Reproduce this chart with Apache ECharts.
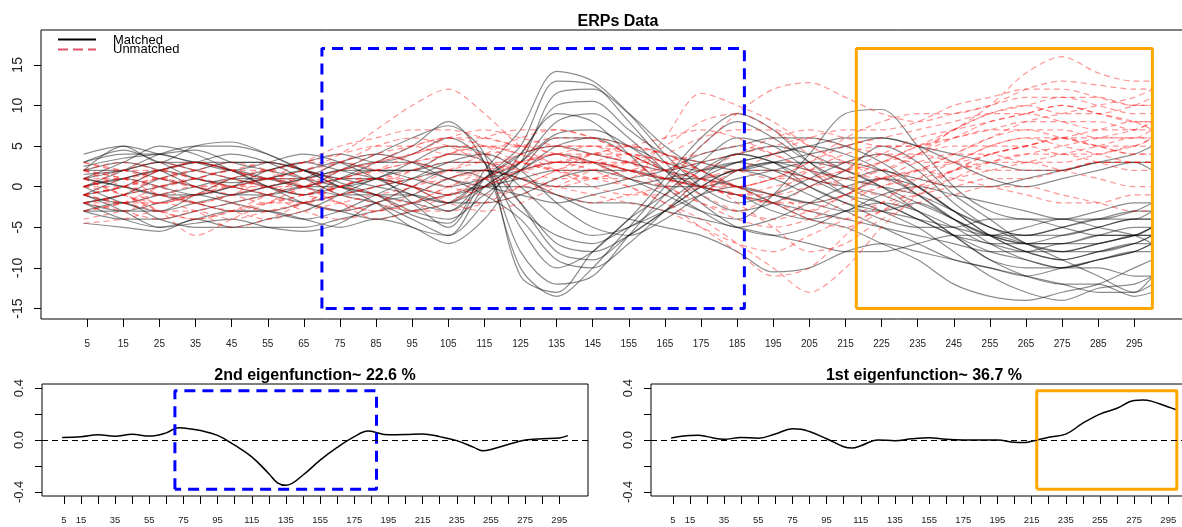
<!DOCTYPE html>
<html>
<head>
<meta charset="utf-8">
<title>ERPs Data</title>
<script src="https://cdn.jsdelivr.net/npm/echarts@6/dist/echarts.min.js"></script>
<style>
  html, body { margin: 0; padding: 0; background: #fff; }
  #erp { width: 1182px; height: 527px; }
</style>
</head>
<body>
<div id="erp"></div>
<script>
const timePts = [4, 15, 25, 35, 45, 55, 65, 75, 85, 95, 105, 115, 125, 135, 145, 155, 165, 175, 185, 195, 205, 215, 225, 235, 245, 255, 265, 275, 285, 295, 300]

// Matched curves (black)
const matched = [
  [3, 4.5, 3, 1, 0.5, 1, 2, 0.5, -1, -3.5, -4.5, 2, 7, 14.2, 13, 9, 4, 0, -2, -1, 1, 3, 4, 2, -2, -5, -6, -5, -4, -3, -3],
  [1, 3, 5, 4, 2, 0, -1, 0, 1, -2, -5, 1, 5, 13, 12.5, 8, 3, -1, -3, -2, 0, 2, 5, 3, -1, -4, -7, -8, -7, -6, -5],
  [-1, 0, 2, 3, 4, 3, 1, -1, -2, -4, -6, 0, 3, 11.5, 12, 9, 5, 2, 0, -1, -2, -1, 1, 0, -3, -6, -8, -9, -8, -7, -6],
  [2, 5, 3, 5, 5.5, 4, 2, 1, 0, -1, -3, 1, 4, 10, 10.5, 7, 4, 3, 2, 3, 4, 5, 6, 5, 3, 1, 0, 1, 2, 3, 3],
  [0, -2, -3, -1, 1, 2, 3, 2, 1, 0, -2, 1, 3, 8, 9, 6, 2, -2, -5, -6, -5, -3, -2, -3, -5, -7, -7, -6, -5, -4, -4],
  [-2, -1, 1, 2, 3, 3, 2, 0, -1, -2, -3, 0, 3, 6.5, 7, 5, 2, 0, -1, -3, -4, -3, -1, 0, -1, -2, -3, -4, -4, -3, -2],
  [1, 2, 3, 2, 1, 0, -1, 1, 3, 5, 8, 3, -10, -13.5, -10, -5, 0, 5, 8, 6, 3, 1, 2, 0, -3, -6, -8, -9, -8, -7, -7],
  [-2, -1, 0, 1, 2, 1, 0, 2, 4, 6, 7.5, 4, -11, -13, -8, -4, 1, 6, 9, 7, 3, 0, -2, -4, -6, -8, -9, -10, -9, -8, -7],
  [0, 1, 0, -1, 0, 2, 3, 4, 3, 4, 6, 3, -8, -12, -11, -6, -1, 3, 6, 5, 2, -1, -3, -5, -8, -11, -13, -14, -12.5, -12, -11],
  [2, 3, 2, 0, -1, -1, 0, 1, 2, 2, 4, 3, -5, -10, -8, -4, -1, 2, 4, 3, 1, 0, -1, -3, -6, -9, -10, -10, -10, -11, -11],
  [-3, -4, -4, -3, -2, -1, 0, 0, 1, 3, 5, 4, -2, -8, -9, -6, -3, 0, 2, 1, -1, -3, -5, -7, -9, -10, -11, -12, -13, -13, -11],
  [1, 0, -1, -2, -3, -3, -2, -1, 0, 1, 2, 1, -3, -6, -7, -5, -3, -1, 0, -1, -2, -3, -3, -2, -4, -6, -7, -7, -6, -6, -5],
  [3, 4, 4, 3, 3, 3, 2, 1, 1, 0, -1, 0, 1, 2, 2, 1, 0, 0, 1, 2, 3, 3, 2, 1, 0, 0, 1, 2, 3, 4, 5],
  [-4.5, -5, -5.5, -4, -5, -5, -5, -4, -3, -2, -1, 0, 0, -1, -2, -2, -3, -4, -5, -6, -7, -8, -8, -7, -6, -6, -7, -8, -7, -6, -5],
  [-2, -4, -5, -4.5, -4, -5, -5.5, -4.5, -2, -1, 1, 2, 1, -1, -3, -4, -5, -6, -8, -10.5, -10, -8, -7, -8, -9, -10, -11, -10, -9, -8, -7],
  [2.5, 3.5, 4, 4.5, 3, 2, 1, 0, -1, -3, -4, -1, 2, 4, 3, 1, -1, -3, -4, -1, 4, 9, 9.5, 5, 0, -3, -4, -4, -3, -2, -2],
  [-1, -2, -1, 0, 1, 1, 0, -1, -1, -1, -2, -2, -1, 1, 2, 2, 1, 0, -1, -2, -3, -4, -5, -6, -7, -8, -8, -7, -7, -6, -6],
  [0, 1, 2, 1, 0, -1, -2, -3, -4, -3, -2, 1, 4, 5, 4, 3, 2, 3, 4, 5, 4, 2, 0, -2, -4, -6, -5, -4, -5, -6, -7],
  [-3, -3, -2, -1, -2, -3, -4, -3, -1, 1, 3, 4, 2, -2, -5, -6, -4, -1, 2, 3, 2, 1, 0, -1, -3, -5, -7, -9, -11, -13, -12],
  [1.5, 2, 3, 3, 2, 1, 1, 2, 2, 1, 0, 1, 2, 3, 3, 2, 1, 1, 2, 3, 3, 2, 0, -3, -6, -9, -11, -12, -12, -13.5, -13],
  [-1, -3, -5, -4, -3, -3, -4, -5, -4, -5, -7, -4, 2, 6, 6, 4, 2, 1, 0, -2, -4, -5, -7, -9, -12, -13.5, -14, -13, -12, -10, -9],
  [1, 0, -1, -1, 0, 1, 2, 3, 2, 2, 3, 3, 0, -4, -6, -5, -2, 1, 3, 4, 5, 6, 6, 5, 4, 3, 2, 2, 3, 3, 2],
  [2, 2, 1, 0, -1, 0, 1, 2, 3, 3, 2, 2, 1, 0, 0, 1, 2, 4, 5, 6, 6, 5, 3, 0, -3, -5, -6, -6, -5, -4, -4],
  [-1, 1, 2, 3, 2, 0, -2, -3, -2, 0, 2, 2, -2, -7, -8, -6, -3, 0, 2, 2, 1, -1, -2, -4, -6, -7, -8, -8, -8, -7, -6],
  [4, 5, 4, 3, 2, 3, 4, 3, 1, -1, -2, 0, 2, 5, 6, 5, 3, 2, 3, 4, 5, 4, 2, -1, -4, -6, -7, -7, -6, -5, -5],
  [-3, -2, -4, -5, -5, -4, -3, -1, 1, 2, 1, -1, -4, -9, -10, -7, -3, 1, 4, 3, 0, -2, -3, -4, -5, -6, -6, -5, -4, -4, -3],
  [0, 2, 4, 5, 5, 4, 2, 0, -2, -5, -6, -2, 4, 9, 8, 4, 0, -3, -5, -4, -2, 0, 1, -1, -4, -7, -9, -10, -9, -8, -8],
  [-2, -3, -3, -2, -1, 0, 1, 3, 4, 3, 1, 0, -1, -2, -1, 0, 1, 2, 3, 2, 0, -2, -4, -5, -5, -4, -4, -5, -6, -6, -6]
]

// Unmatched curves (red dashed)
const unmatched = [
  [0, 1, 2, 1, 0, 1, 2, 4, 7, 10, 12, 9, 5, 3, 3, 2, 1, 0, -1, -1, 0, 1, 3, 5, 7, 9, 10, 11, 11, 10, 10],
  [1, -1, -2, -1, 0, 1, 0, 1, 2, 3, 4, 5, 5, 4, 3, 2, 1, 2, 4, 6, 7, 6, 5, 5, 7, 10, 14, 16, 14, 13, 13],
  [-1, 0, 1, 0, -1, -2, -1, 0, 1, 0, -1, 1, 3, 4, 4, 3, 2, 5, 9, 12, 12.8, 11, 9, 8, 9, 10, 12, 13, 12.5, 12, 12],
  [2, 1, 0, 1, 2, 3, 2, 1, 3, 5, 6, 5, 3, 2, 1, 1, 6, 11.5, 10, 8, 5, 3, 2, 4, 7, 9, 10, 9, 9, 10, 11],
  [-3, -2, -1, -2, -3, -2, -1, 0, -1, -2, -1, 0, 2, 3, 2, 0, -2, -4, -7, -10, -13, -10, -5, -1, 2, 4, 5, 6, 7, 8, 8],
  [-4.5, -4, -3, -3, -4, -3, -2, -1, 0, 1, 2, 3, 3, 2, 1, 0, -2, -5, -8, -11, -10, -6, -2, 1, 3, 5, 6, 6, 5, 5, 6],
  [1, 2, 1, 0, 1, 2, 3, 4, 5, 5, 4, 4, 5, 6, 6, 5, 4, 3, 2, 1, 1, 2, 3, 5, 6, 7, 8, 8, 8, 7, 7],
  [-2, -3, -4, -3, -2, -1, 0, 1, 2, 3, 4, 6, 7, 7, 6, 4, 2, 0, -1, 0, 1, 2, 3, 4, 5, 5, 5, 4, 4, 5, 5],
  [0, 0, -1, -2, -1, 0, 1, 0, -1, -3, -2, 0, 2, 3, 3, 2, 1, 0, 0, 1, 2, 3, 4, 4, 3, 2, 2, 2, 3, 3, 3],
  [3, 2, 1, 2, 3, 2, 0, -2, -3, -2, 0, 2, 4, 5, 5, 3, 1, 0, -1, -2, -2, -1, 0, 2, 4, 6, 8, 9, 10, 11, 12],
  [-1, -2, -3, -4, -3, -1, 1, 3, 4, 3, 2, 1, 0, 0, 1, 2, 3, 4, 5, 4, 2, 0, -1, 0, 2, 4, 5, 6, 5, 4, 4],
  [2, 3, 2, 1, 0, -1, -2, -1, 0, 2, 4, 5, 4, 3, 4, 5, 4, 2, 0, 1, 3, 5, 6, 7, 8, 9, 9, 8, 7, 7, 8],
  [-3, -2, 0, 1, 0, -1, -3, -4, -3, -1, 1, 2, 1, -1, -2, -1, 0, 1, 2, 2, 1, 0, 1, 2, 1, 0, -1, -2, -2, -1, -1],
  [0, 1, 0, -2, -3, -4, -3, -2, -1, 0, 2, 4, 6, 7, 6, 4, 2, 1, 0, -1, -3, -4, -3, -1, 1, 3, 4, 4, 3, 2, 2],
  [1, -1, -3, -6, -4, -2, 0, 2, 3, 4, 5, 5, 4, 2, 0, -1, -1, 0, 2, 4, 6, 7, 7, 8, 10, 11, 12, 12, 11, 10, 10],
  [-1, 0, 1, 2, 1, 0, -1, 0, 2, 4, 6, 7, 6, 5, 4, 3, 1, -1, -3, -4, -3, -1, 1, 3, 4, 4, 3, 3, 4, 5, 6],
  [2, 0, -2, -1, 1, 2, 1, -1, -2, -3, -3, -2, 0, 2, 4, 5, 6, 7, 6, 4, 2, 1, 2, 4, 6, 8, 9, 10, 9, 8, 7],
  [-2, -1, 0, 1, 2, 2, 3, 3, 2, 0, -2, -3, -2, 0, 2, 3, 3, 2, 0, -2, -4, -5, -3, 0, 2, 3, 3, 2, 1, 0, 0],
  [0, 2, 3, 2, 1, 0, 0, 1, 1, 2, 3, 3, 2, 1, 1, 2, 2, 3, 4, 5, 6, 5, 4, 3, 3, 4, 5, 6, 6, 6, 6],
  [-4, -3, -2, -3, -5, -4, -2, 0, 1, 0, -1, -2, -1, 1, 3, 4, 3, 1, -2, -5, -8, -7, -4, -2, -1, 0, 0, -1, -2, -3, -3],
  [1, 1, 2, 3, 2, 1, 2, 3, 5, 6, 5, 3, 2, 3, 4, 4, 3, 1, 0, 1, 3, 6, 8, 9, 9, 10, 11, 11, 10, 9, 9],
  [-2, -2, -1, 0, 0, 1, 0, -2, -4, -3, -1, 1, 3, 4, 3, 1, 0, -2, -4, -5, -4, -2, 0, 1, 2, 3, 4, 5, 6, 7, 8],
  [2, 1, -1, -2, -1, 1, 3, 5, 6, 7, 7, 6, 5, 4, 3, 3, 4, 6, 7, 7, 5, 3, 1, 0, 1, 2, 3, 4, 5, 6, 6],
  [-1, -2, -2, -1, 0, 0, -1, -2, -3, -2, 0, 1, 1, 0, -1, -2, -3, -5, -7, -8, -6, -4, -2, -1, 0, 1, 1, 2, 3, 3, 3],
  [-1, 0, 2, 3, 2, 1, 0, 2, 4, 5, 6, 6, 5, 5, 5, 4, 3, 1, -1, -2, 0, 2, 4, 6, 7, 8, 9, 10, 9, 8, 8],
  [0, -1, -3, -4, -3, -2, -2, -3, -2, 0, 1, 2, 3, 4, 5, 5, 4, 2, 0, -2, -3, -1, 1, 2, 4, 6, 7, 7, 6, 6, 7],
  [3, 2, 2, 3, 2, 1, 1, 2, 3, 4, 5, 4, 3, 2, 2, 3, 5, 8, 9, 7, 4, 2, 1, 2, 3, 5, 6, 5, 4, 3, 3],
  [-2, -1, 1, 0, -2, -3, -2, 0, 1, 1, 0, -1, 0, 2, 3, 2, 0, -2, -3, -1, 2, 4, 5, 5, 6, 7, 7, 6, 5, 4, 4]
]

// 2nd eigenfunction (22.6 %)
const eig2X = [4, 15, 25, 35, 45, 55, 65, 72, 75, 85, 95, 105, 115, 125, 130, 135, 145, 155, 165, 175, 183, 185, 195, 205, 215, 225, 235, 245, 250, 255, 265, 275, 285, 295, 300]
const eig2Y = [0.02, 0.025, 0.04, 0.028, 0.045, 0.03, 0.055, 0.095, 0.093, 0.073, 0.036, -0.04, -0.13, -0.26, -0.33, -0.35, -0.27, -0.155, -0.057, 0.026, 0.07, 0.068, 0.04, 0.042, 0.047, 0.026, -0.005, -0.057, -0.083, -0.073, -0.034, 0, 0.01, 0.016, 0.034]

// 1st eigenfunction (36.7 %)
const eig1X = [4, 15, 20, 25, 35, 45, 55, 65, 75, 80, 85, 95, 105, 110, 115, 125, 135, 145, 155, 165, 175, 185, 195, 205, 210, 215, 225, 235, 245, 255, 265, 275, 280, 285, 295, 300]
const eig1Y = [0.016, 0.034, 0.036, 0.026, 0.005, 0.02, 0.013, 0.047, 0.086, 0.083, 0.065, 0.01, -0.052, -0.062, -0.044, 0, -0.005, 0.01, 0.018, 0.005, 0, 0, 0, -0.018, -0.02, -0.01, 0.022, 0.045, 0.13, 0.2, 0.245, 0.305, 0.308, 0.3, 0.255, 0.232]

// ticks / labels
const timeTicks = [5, 15, 25, 35, 45, 55, 65, 75, 85, 95, 105, 115, 125, 135, 145, 155, 165, 175, 185, 195, 205, 215, 225, 235, 245, 255, 265, 275, 285, 295]
const timeLabelsSmall = [5, 15, 35, 55, 75, 95, 115, 135, 155, 175, 195, 215, 235, 255, 275, 295]
const erpTicks = [-15, -10, -5, 0, 5, 10, 15]
const eigTicks = [-0.4, -0.2, 0, 0.2, 0.4]
const eigLabels = [-0.4, 0, 0.4]

// highlighted windows [x0, x1, y0, y1]
const blueWin = [70, 187, -15, 17]
const orangeWin = [218, 300, -15, 17]
const blueWinEig = [70, 188, -0.38, 0.38]
const orangeWinEig = [218, 300, -0.38, 0.38]

function pairs(xs, ys) {
  return xs.map((x, i) => [x, ys[i]])
}
function rect(w) {
  return [[w[0], w[2]], [w[0], w[3]], [w[1], w[3]], [w[1], w[2]], [w[0], w[2]]]
}

const FONT = 'Liberation Sans, Arial, Helvetica, sans-serif'

function xAx(idx, labels, size, margin) {
  return {
    type: 'value', gridIndex: idx, min: -7.8, max: 311.8,
    axisLine: { show: false, onZero: false },
    splitLine: { show: false },
    axisTick: { customValues: timeTicks, length: 8, lineStyle: { color: '#000', width: 1 } },
    axisLabel: { customValues: labels, fontSize: size, margin: margin, color: '#222', fontFamily: FONT }
  }
}
function yAx(idx, min, max, ticks, labels, size, fmt) {
  return {
    type: 'value', gridIndex: idx, min: min, max: max,
    axisLine: { show: false, onZero: false },
    splitLine: { show: false },
    axisTick: { customValues: ticks, length: 7, lineStyle: { color: '#000', width: 1 } },
    axisLabel: {
      customValues: labels, rotate: 90, fontSize: size, margin: 16, color: '#222', fontFamily: FONT,
      formatter: fmt
    }
  }
}

let series = []
matched.forEach(ys => {
  series.push({
    type: 'line', xAxisIndex: 0, yAxisIndex: 0, data: pairs(timePts, ys),
    showSymbol: false, smooth: 0.3, silent: true,
    lineStyle: { color: 'rgba(0,0,0,0.45)', width: 1.2 }
  })
})
unmatched.forEach(ys => {
  series.push({
    type: 'line', xAxisIndex: 0, yAxisIndex: 0, data: pairs(timePts, ys),
    showSymbol: false, smooth: 0.3, silent: true,
    lineStyle: { color: 'rgba(255,0,0,0.42)', width: 1.2, type: [6, 4] }
  })
})
// windows on the ERP panel
series.push({
  type: 'line', xAxisIndex: 0, yAxisIndex: 0, data: rect(blueWin), showSymbol: false, silent: true,
  lineStyle: { color: '#0000ff', width: 3, type: [11, 7] }, z: 5
})
series.push({
  type: 'line', xAxisIndex: 0, yAxisIndex: 0, data: rect(orangeWin), showSymbol: false, silent: true,
  lineStyle: { color: '#ffa500', width: 3 }, z: 5
})
// eigenfunctions
const zeroLine = {
  silent: true, symbol: 'none', label: { show: false },
  lineStyle: { color: '#000', width: 1.2, type: [6, 4] },
  data: [{ yAxis: 0 }]
}
series.push({
  type: 'line', xAxisIndex: 1, yAxisIndex: 1, data: pairs(eig2X, eig2Y), showSymbol: false, smooth: 0.4, silent: true,
  lineStyle: { color: '#000', width: 1.5 }, markLine: zeroLine
})
series.push({
  type: 'line', xAxisIndex: 1, yAxisIndex: 1, data: rect(blueWinEig), showSymbol: false, silent: true,
  lineStyle: { color: '#0000ff', width: 3, type: [11, 7] }
})
series.push({
  type: 'line', xAxisIndex: 2, yAxisIndex: 2, data: pairs(eig1X, eig1Y), showSymbol: false, smooth: 0.4, silent: true,
  lineStyle: { color: '#000', width: 1.5 }, markLine: zeroLine
})
series.push({
  type: 'line', xAxisIndex: 2, yAxisIndex: 2, data: rect(orangeWinEig), showSymbol: false, silent: true,
  lineStyle: { color: '#ffa500', width: 3 }
})

const eigFmt = v => v.toFixed(1)
const gridBase = { show: true, borderColor: '#000', borderWidth: 1, outerBoundsMode: 'none', containLabel: false }

let myChart = echarts.init(document.getElementById('erp'))
myChart.setOption({
  animation: false,
  backgroundColor: '#fff',
  grid: [
    Object.assign({ left: 41, top: 30, width: 1154, height: 289 }, gridBase),
    Object.assign({ left: 42, top: 384, width: 546, height: 112 }, gridBase),
    Object.assign({ left: 651, top: 384, width: 546, height: 112 }, gridBase)
  ],
  xAxis: [
    xAx(0, timeTicks, 10, 20),
    xAx(1, timeLabelsSmall, 9.5, 19),
    xAx(2, timeLabelsSmall, 9.5, 19)
  ],
  yAxis: [
    yAx(0, -16.29, 19.29, erpTicks, erpTicks, 14),
    yAx(1, -0.432, 0.432, eigTicks, eigLabels, 13, eigFmt),
    yAx(2, -0.432, 0.432, eigTicks, eigLabels, 13, eigFmt)
  ],
  graphic: [
    { type: 'text', x: 618, y: 22, silent: true,
      style: { text: 'ERPs Data', font: 'bold 16px ' + FONT, fill: '#000', textAlign: 'center', textVerticalAlign: 'middle' } },
    { type: 'text', x: 315, y: 376, silent: true,
      style: { text: '2nd eigenfunction~ 22.6 %', font: 'bold 16px ' + FONT, fill: '#000', textAlign: 'center', textVerticalAlign: 'middle' } },
    { type: 'text', x: 924, y: 376, silent: true,
      style: { text: '1st eigenfunction~ 36.7 %', font: 'bold 16px ' + FONT, fill: '#000', textAlign: 'center', textVerticalAlign: 'middle' } },
    // legend
    { type: 'line', silent: true, shape: { x1: 58, y1: 39.5, x2: 96, y2: 39.5 }, style: { stroke: '#000', lineWidth: 2 } },
    { type: 'line', silent: true, shape: { x1: 58, y1: 49.5, x2: 96, y2: 49.5 }, style: { stroke: '#df536b', lineWidth: 2, lineDash: [10, 5] } },
    { type: 'text', x: 113, y: 40, silent: true,
      style: { text: 'Matched', font: '13px ' + FONT, fill: '#000', textAlign: 'left', textVerticalAlign: 'middle' } },
    { type: 'text', x: 113, y: 49.5, silent: true,
      style: { text: 'Unmatched', font: '13px ' + FONT, fill: '#000', textAlign: 'left', textVerticalAlign: 'middle' } }
  ],
  series: series
})
</script>
</body>
</html>
